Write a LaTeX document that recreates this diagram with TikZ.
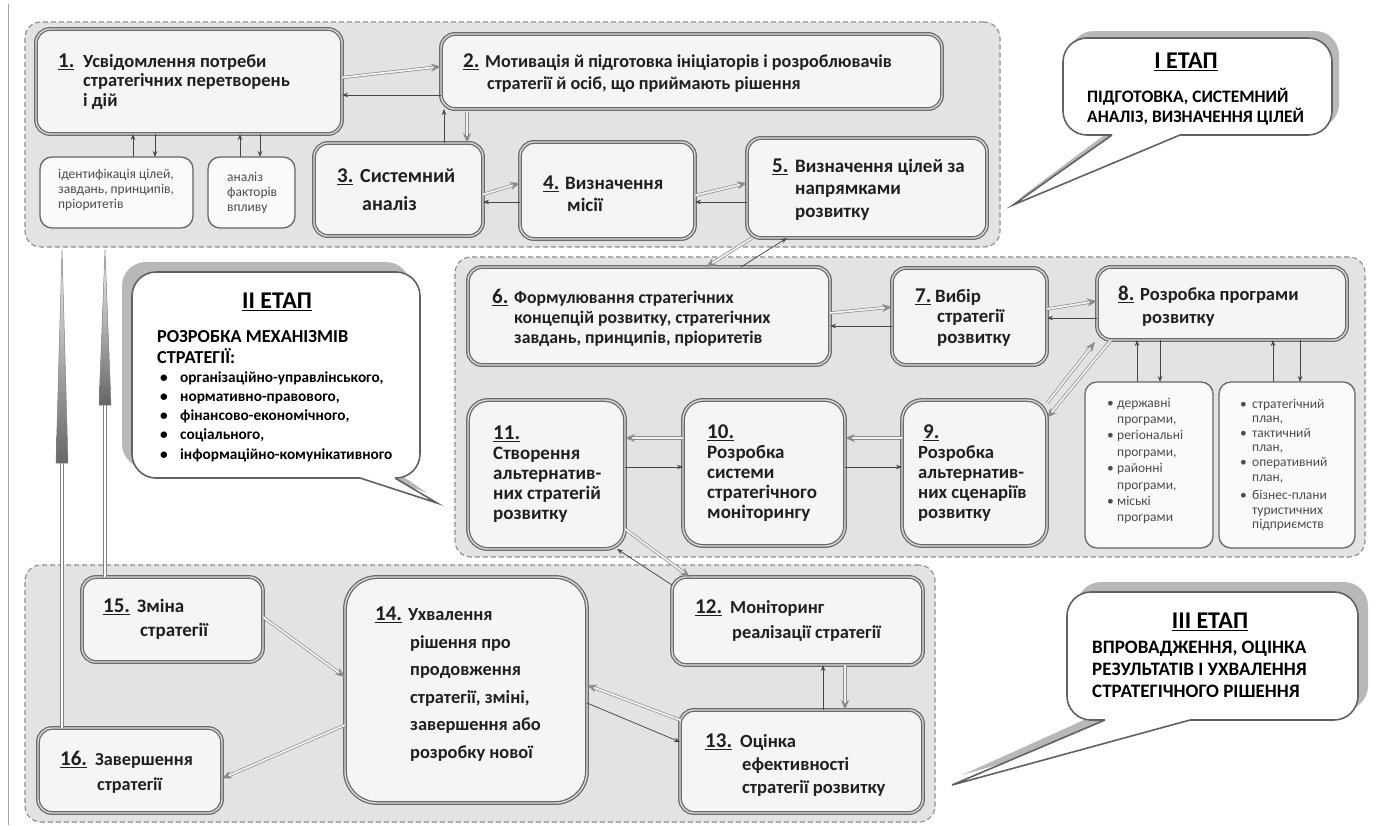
\documentclass[tikz,border=0pt]{standalone}
\usepackage{fontspec}
\setmainfont{Carlito}
\usetikzlibrary{arrows.meta,calc}
\newcommand\stepnum[2]{\makebox[#1][l]{\fontsize{21}{20}\selectfont\underline{#2}}}
\newcommand\bignum[1]{{\fontsize{21}{20}\selectfont\underline{#1}}}
\newcommand\bul[1]{\makebox[#1][l]{•}}
\begin{document}
\begin{tikzpicture}[x=1pt,y=-1pt,
  grp/.style={draw=black!45, dashed, dash pattern=on 5pt off 3pt, line width=1.1pt, fill=black!11, rounded corners=16pt, inner sep=0pt, outer sep=0pt},
  box/.style={draw=black!58, line width=1.3pt, double=black!14, double distance=1.3pt, fill=black!4, rounded corners=14pt, inner sep=0pt, outer sep=0pt},
  sub/.style={draw=black!60, line width=1.3pt, fill=black!2, rounded corners=12pt, inner sep=0pt, outer sep=0pt},
  lbl/.style={anchor=west, align=left, inner sep=0pt, text=black!88, font=\bfseries\fontsize{18.5}{20}\selectfont},
  sublbl/.style={anchor=west, align=left, inner sep=0pt, text=black!70, font=\fontsize{13.5}{15}\selectfont},
  cl/.style={draw=black!62, line width=1.6pt},
  clshadow/.style={fill=black!28},
  fw/.style={draw=black!45, line width=0.7pt, double=black!5, double distance=1.8pt, -{Stealth[length=10pt,width=8pt]}},
  bk/.style={draw=black!72, line width=0.75pt, -{Stealth[length=6pt,width=4.5pt]}},
  longdbl/.style={draw=black!50, line width=0.7pt, double=white, double distance=2.4pt},
  headshade/.style={top color=black!5, bottom color=black!60, draw=black!50, line width=0.5pt}
]
\useasboundingbox (0,0) rectangle (1380,825);
\fill[white] (0,0) rectangle (1380,825);
\draw[black!35, line width=0.8pt] (8,4) -- (8,825);

% ---------- groups ----------
\node[grp, minimum width=975, minimum height=225] (g1) at (512.5,134.5) {};
\node[grp, minimum width=910, minimum height=300] (g2) at (910,407) {};
\node[grp, minimum width=910, minimum height=257] (g3) at (480,693.5) {};

% ---------- boxes ----------
\node[box, minimum width=306, minimum height=105] (b1) at (189,81.5) {};
\node[box, minimum width=501, minimum height=75] (b2) at (691.5,71.5) {};
\node[sub, minimum width=153, minimum height=71] (ba) at (116.5,192.5) {};
\node[sub, minimum width=87, minimum height=71] (bb) at (251.5,192.5) {};
\node[box, minimum width=169, minimum height=93] (b3) at (398.5,189.5) {};
\node[box, minimum width=175, minimum height=97] (b4) at (607.5,190.5) {};
\node[box, minimum width=240, minimum height=100] (b5) at (867,188) {};
\node[box, minimum width=362, minimum height=98] (b6) at (649,316) {};
\node[box, minimum width=155, minimum height=97] (b7) at (969.5,316.5) {};
\node[box, minimum width=250, minimum height=73] (b8) at (1222,303.5) {};
\node[sub, minimum width=128, minimum height=166] (b8a) at (1149,465) {};
\node[sub, minimum width=136, minimum height=166] (b8b) at (1287,465) {};
\node[box, rounded corners=20pt, minimum width=145, minimum height=146] (b9) at (974.5,473) {};
\node[box, rounded corners=20pt, minimum width=162, minimum height=146] (b10) at (764,473) {};
\node[box, rounded corners=20pt, minimum width=157, minimum height=149] (b11) at (546.5,474.5) {};
\node[box, minimum width=251, minimum height=88] (b12) at (797.5,621) {};
\node[box, minimum width=243, minimum height=103] (b13) at (801.5,761.5) {};
\node[box, rounded corners=32pt, minimum width=242, minimum height=226] (b14) at (466,690) {};
\node[box, minimum width=181, minimum height=85] (b15) at (172.5,619.5) {};
\node[box, minimum width=184, minimum height=85] (b16) at (130,770.5) {};

% ---------- texts ----------
\node[lbl, font=\bfseries\fontsize{18.5}{19.5}\selectfont] (t1) at ([xshift=22]b1.west) {\stepnum{25pt}{1.}Усвідомлення потреби\\\hspace*{25pt}стратегічних перетворень\\\hspace*{25pt}і дій};
\node[lbl, font=\bfseries\fontsize{18.2}{22}\selectfont] (t2) at ([xshift=22,yshift=-1.5]b2.west) {\stepnum{22pt}{2.}Мотивація й підготовка ініціаторів і розроблювачів\\\hspace*{24pt}стратегії й осіб, що приймають рішення};
\node[sublbl] (ta) at ([xshift=18,yshift=2.5]ba.west) {ідентифікація цілей,\\завдань, принципів,\\пріоритетів};
\node[sublbl] (tb) at ([xshift=19]bb.west) {аналіз\\факторів\\впливу};
\node[lbl, font=\bfseries\fontsize{20}{28}\selectfont] (t3) at ([xshift=23]b3.west) {\stepnum{23pt}{3.}Системний\\\hspace*{25pt}аналіз};
\node[lbl, font=\bfseries\fontsize{19}{22}\selectfont] (t4) at ([xshift=23,yshift=-3.5]b4.west) {\stepnum{22pt}{4.}Визначення\\\hspace*{24pt}місії};
\node[lbl, font=\bfseries\fontsize{19}{22.5}\selectfont] (t5) at ([xshift=25,yshift=-1.5]b5.west) {\stepnum{23pt}{5.}Визначення цілей за\\\hspace*{23pt}напрямками\\\hspace*{23pt}розвитку};
\node[lbl, font=\bfseries\fontsize{17.7}{20}\selectfont] (t6) at ([xshift=24,yshift=-2]b6.west) {\stepnum{22pt}{6.}Формулювання стратегічних\\\hspace*{22pt}концепцій розвитку, стратегічних\\\hspace*{22pt}завдань, принципів, пріоритетів};
\node[lbl, font=\bfseries\fontsize{18.8}{20.5}\selectfont] (t7) at ([xshift=23,yshift=-1]b7.west) {\stepnum{20pt}{7.}Вибір\\\hspace*{22pt}стратегії\\\hspace*{22pt}розвитку};
\node[lbl, font=\bfseries\fontsize{18.5}{23}\selectfont] (t8) at ([xshift=21,yshift=-3]b8.west) {\stepnum{22pt}{8.}Розробка програми\\\hspace*{24pt}розвитку};
\node[sublbl, font=\fontsize{13.5}{16.4}\selectfont] (t8a) at ([xshift=22,yshift=4]b8a.west) {\bul{10pt}державні\\\hspace*{10pt}програми,\\\bul{10pt}регіональні\\\hspace*{10pt}програми,\\\bul{10pt}районні\\\hspace*{10pt}програми,\\\bul{10pt}міські\\\hspace*{10pt}програми};
\node[sublbl, font=\fontsize{13.5}{14.6}\selectfont] (t8b) at ([xshift=21]b8b.west) {\bul{12pt}стратегічний\\\hspace*{12pt}план,\\\bul{12pt}тактичний\\\hspace*{12pt}план,\\\bul{12pt}оперативний\\\hspace*{12pt}план,\\[4pt]\bul{12pt}бізнес-плани\\\hspace*{12pt}туристичних\\\hspace*{12pt}підприємств};
\node[lbl, font=\bfseries\fontsize{18.6}{20}\selectfont] (t9) at ([xshift=16]b9.west) {\hspace*{5pt}\bignum{9.}\\Розробка\\альтернатив-\\них сценаріїв\\розвитку};
\node[lbl, font=\bfseries\fontsize{19}{20}\selectfont] (t10) at ([xshift=24]b10.west) {\bignum{10.}\\Розробка\\системи\\стратегічного\\моніторингу};
\node[lbl, font=\bfseries\fontsize{19}{20}\selectfont] (t11) at ([xshift=25]b11.west) {\bignum{11.}\\Створення\\альтернатив-\\них стратегій\\розвитку};
\node[lbl, font=\bfseries\fontsize{18.4}{25}\selectfont] (t12) at ([xshift=23]b12.west) {\stepnum{35pt}{12.}Моніторинг\\\hspace*{37pt}реалізації стратегії};
\node[lbl, font=\bfseries\fontsize{18.6}{23}\selectfont] (t13) at ([xshift=25,yshift=-3.5]b13.west) {\stepnum{35pt}{13.}Оцінка\\\hspace*{37pt}ефективності\\\hspace*{37pt}стратегії розвитку};
\node[lbl, font=\bfseries\fontsize{18.4}{27.5}\selectfont] (t14) at ([xshift=30,yshift=6]b14.west) {\stepnum{33pt}{14.}Ухвалення\\\hspace*{35pt}рішення про\\\hspace*{35pt}продовження\\\hspace*{35pt}стратегії, зміні,\\\hspace*{35pt}завершення або\\\hspace*{35pt}розробку нової};
\node[lbl, font=\bfseries\fontsize{19}{24}\selectfont] (t15) at ([xshift=21]b15.west) {\stepnum{34pt}{15.}Зміна\\\hspace*{37pt}стратегії};
\node[lbl, font=\bfseries\fontsize{18.2}{25}\selectfont] (t16) at ([xshift=22,yshift=-2]b16.west) {\stepnum{35pt}{16.}Завершення\\\hspace*{37pt}стратегії};

% ---------- connectors ----------
% 1 - sub boxes
\draw[bk] ([xshift=16.5]ba.north) -- ([xshift=-56]b1.south);
\draw[bk] ([xshift=-34]b1.south) -- ([xshift=38.5]ba.north);
\draw[bk] ([xshift=-11.5]bb.north) -- ([xshift=51]b1.south);
\draw[bk] ([xshift=71]b1.south) -- ([xshift=8.5]bb.north);
% 1 - 2
\draw[fw] ([yshift=4]b1.east) -- ([yshift=5]b2.west);
\draw[bk] ([yshift=-23.5]b2.west) -- ([yshift=-13.5]b1.east);
% 3 - 2
\draw[bk] ([xshift=45.5]b3.north) -- ([xshift=-247.5]b2.south);
\draw[fw] ([xshift=-224.5,yshift=-3]b2.south) -- ([xshift=68.5]b3.north);
% 3 - 4
\draw[fw] ([yshift=-5]b3.east) -- ([yshift=7.5]b4.west);
\draw[bk] ([yshift=-11.5]b4.west) -- ([yshift=-12.5]b3.east);
% 4 - 5
\draw[fw] ([yshift=-5]b4.east) -- ([yshift=5]b5.west);
\draw[bk] ([yshift=-14]b5.west) -- ([yshift=-11.5]b4.east);
% 5 - 6
\draw[fw] ([xshift=-115]b5.south) -- ([xshift=57]b6.north);
\draw[bk] ([xshift=92]b6.north) -- ([xshift=-80]b5.south);
% 6 - 7
\draw[fw] ([yshift=3]b6.east) -- ([yshift=9.5]b7.west);
\draw[bk] ([yshift=-9.5]b7.west) -- ([yshift=-10]b6.east);
% 7 - 8
\draw[fw] ([yshift=7.5]b7.east) -- ([yshift=2.5]b8.west);
\draw[bk] ([yshift=-14.5]b8.west) -- ([yshift=-1.5]b7.east);
% 8 - sub boxes
\draw[bk] ([xshift=-12]b8a.north) -- ([xshift=-85]b8.south);
\draw[bk] ([xshift=-62]b8.south) -- ([xshift=11]b8a.north);
\draw[bk] ([xshift=-14]b8b.north) -- ([xshift=51]b8.south);
\draw[bk] ([xshift=78]b8.south) -- ([xshift=13]b8b.north);
% 8 - 9
\draw[fw] ([xshift=14]b8.south west) -- ([yshift=-18]b9.north east);
\draw[fw] ([yshift=-3]b9.north east) -- ([xshift=-2,yshift=-2]b8.south west);
% 9 - 10
\draw[fw] ([yshift=35]b9.west) -- ([yshift=35]b10.east);
\draw[bk] ([yshift=6]b10.east) -- ([yshift=6]b9.west);
% 10 - 11
\draw[fw] ([yshift=35]b10.west) -- ([yshift=36.5]b11.east);
\draw[bk] ([yshift=7.5]b11.east) -- ([yshift=6]b10.west);
% 11 - 12
\draw[fw] ([yshift=20]b11.south east) -- ([xshift=18]b12.north west);
\draw[bk] ([yshift=-8]b12.north west) -- ([xshift=-8]b11.south east);
% 12 - 13
\draw[bk] ([xshift=21.5]b13.north) -- ([xshift=25.5]b12.south);
\draw[fw] ([xshift=47.5]b12.south) -- ([xshift=43.5]b13.north);
% 13 - 14
\draw[fw] ([yshift=41.5]b13.west) -- ([yshift=5]b14.east);
\draw[bk] ([yshift=-13]b14.east) -- ([yshift=19.5]b13.west);
% 15 - 14, 14 - 16
\draw[fw] ([yshift=2.5]b15.east) -- ([yshift=13]b14.west);
\draw[fw] ([yshift=-35]b14.west) -- ([yshift=-8]b16.east);
% long arrows up
\coordinate (h1) at (62,463);
\coordinate (tip1) at (62,250);
\coordinate (h2) at (105,405);
\coordinate (tip2) at (105,250);
\draw[longdbl] ([xshift=-68]b16.north) -- (h1);
\draw[longdbl] ([xshift=-67.5]b15.north) -- (h2);
\shadedraw[headshade] ($(h1)+(-6,0)$) -- (tip1) -- ($(h1)+(6,0)$) -- cycle;
\shadedraw[headshade] ($(h2)+(-6,0)$) -- (tip2) -- ($(h2)+(6,0)$) -- cycle;

% ---------- callouts ----------
% I
\begin{scope}[shift={(7,-7)}]
\fill[clshadow, rounded corners=24pt] (1063,38) rectangle (1332,135);
\fill[clshadow] (1112,131) -- (1013,205) -- (1180,131) -- cycle;
\end{scope}
\fill[white, rounded corners=24pt] (1063,38) rectangle (1332,135);
\draw[cl, rounded corners=24pt] (1063,38) rectangle (1332,135);
\fill[white] (1112,131) -- (1112,135) -- (1013,205) -- (1180,135) -- (1180,131) -- cycle;
\draw[cl, line join=miter] (1112,135) -- (1013,205) -- (1180,135);
\node[inner sep=0pt, font=\bfseries\fontsize{24}{24}\selectfont] (c1t) at (1186,62) {\underline{I ЕТАП}};
\node[anchor=west, align=left, inner sep=0pt, font=\bfseries\fontsize{17.5}{20}\selectfont] (c1x) at (1087,107) {ПІДГОТОВКА, СИСТЕМНИЙ\\АНАЛІЗ, ВИЗНАЧЕННЯ ЦІЛЕЙ};
% II
\begin{scope}[shift={(-10,-10)}]
\fill[clshadow, rounded corners=24pt] (132,272) rectangle (420,478);
\fill[clshadow] (360,474) -- (437,503) -- (395,474) -- cycle;
\end{scope}
\fill[white, rounded corners=24pt] (132,272) rectangle (420,478);
\draw[cl, rounded corners=24pt] (132,272) rectangle (420,478);
\fill[white] (360,474) -- (360,478) -- (437,503) -- (395,478) -- (395,474) -- cycle;
\draw[cl, line join=miter] (360,478) -- (437,503) -- (395,478);
\node[inner sep=0pt, font=\bfseries\fontsize{24}{24}\selectfont] (c2t) at (277,302) {\underline{II ЕТАП}};
\node[anchor=west, align=left, inner sep=0pt, font=\bfseries\fontsize{18.3}{21}\selectfont] (c2h) at (157,347.5) {РОЗРОБКА МЕХАНІЗМІВ\\СТРАТЕГІЇ:};
\node[anchor=west, align=left, inner sep=0pt, font=\bfseries\fontsize{15.3}{19.25}\selectfont] (c2l) at (160,416.5) {\bul{20pt}організаційно-управлінського,\\\bul{20pt}нормативно-правового,\\\bul{20pt}фінансово-економічного,\\\bul{20pt}соціального,\\\bul{20pt}інформаційно-комунікативного};
% III
\begin{scope}[shift={(10,-10)}]
\fill[clshadow, rounded corners=24pt] (1067,592) rectangle (1358,720);
\fill[clshadow] (1105,716) -- (952,785) -- (1190,716) -- cycle;
\end{scope}
\fill[white, rounded corners=24pt] (1067,592) rectangle (1358,720);
\draw[cl, rounded corners=24pt] (1067,592) rectangle (1358,720);
\fill[white] (1105,716) -- (1105,720) -- (952,785) -- (1190,720) -- (1190,716) -- cycle;
\draw[cl, line join=miter] (1105,720) -- (952,785) -- (1190,720);
\node[inner sep=0pt, font=\bfseries\fontsize{24}{24}\selectfont] (c3t) at (1210,622) {\underline{III ЕТАП}};
\node[anchor=west, align=left, inner sep=0pt, font=\bfseries\fontsize{19}{22}\selectfont] (c3x) at (1092,669) {ВПРОВАДЖЕННЯ, ОЦІНКА\\РЕЗУЛЬТАТІВ І УХВАЛЕННЯ\\СТРАТЕГІЧНОГО РІШЕННЯ};
\end{tikzpicture}
\end{document}
